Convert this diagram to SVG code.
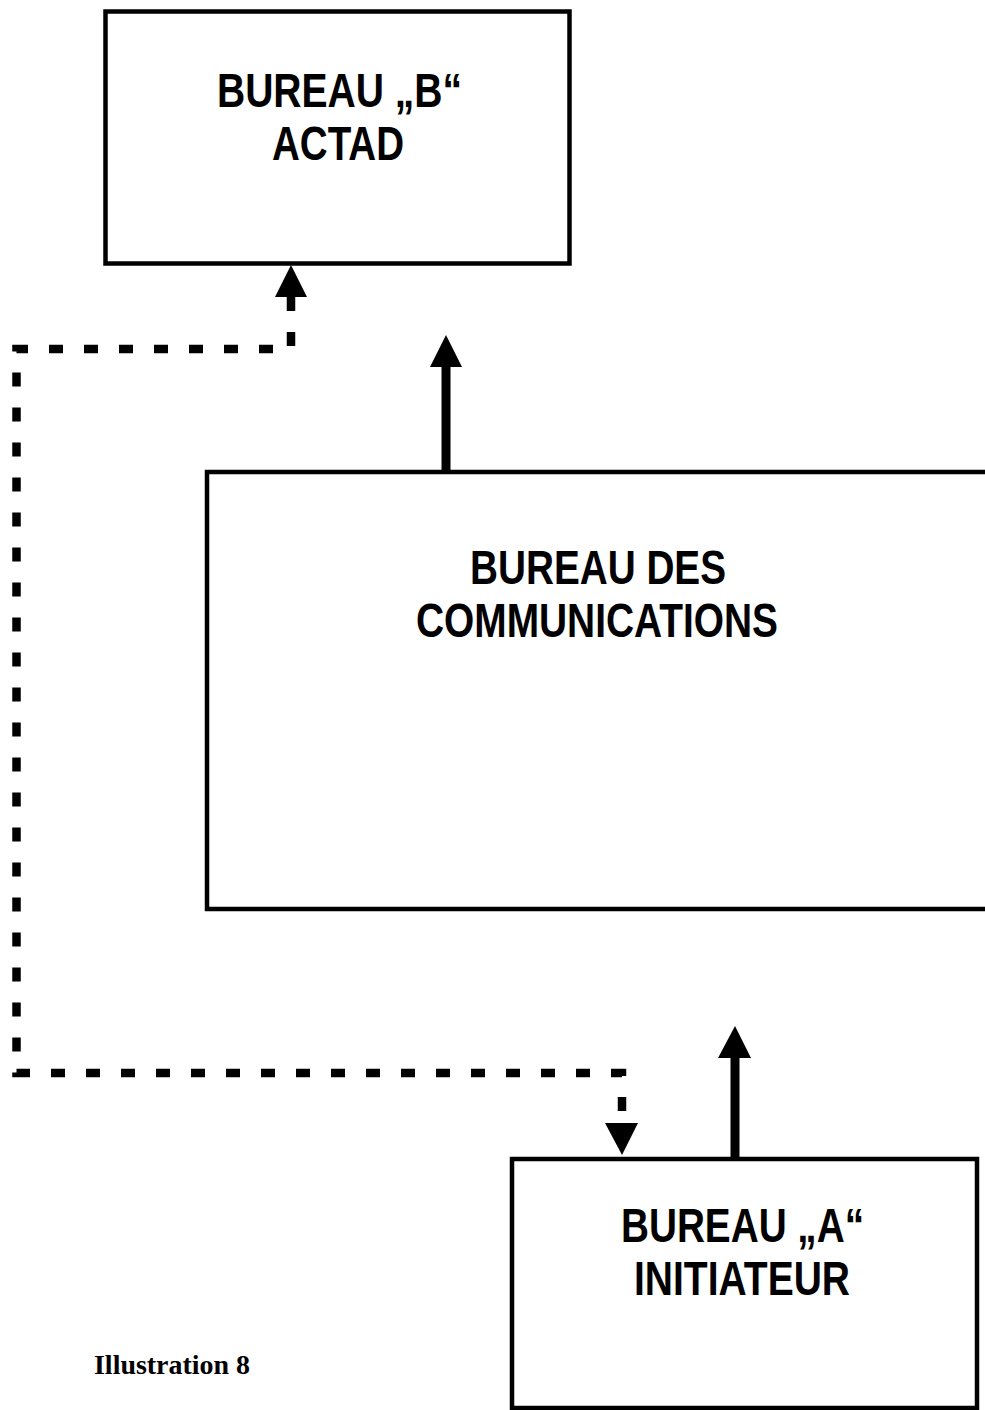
<svg xmlns="http://www.w3.org/2000/svg" width="985" height="1410" viewBox="0 0 985 1410">
  <style>
    .box { fill: #ffffff; stroke: #000000; stroke-width: 4.5; }
    .lbl { font-family: "Liberation Sans", Arial, sans-serif; font-weight: bold; font-size: 48px; fill: #000000; text-anchor: middle; }
    .cap { font-family: "Liberation Serif", "Times New Roman", serif; font-weight: bold; font-size: 28px; fill: #000000; }
    .solid { stroke: #000000; stroke-width: 9; fill: none; }
    .dash { stroke: #000000; stroke-width: 8.5; fill: none; stroke-dasharray: 14 21; }
    .head { fill: #000000; }
  </style>
  <rect x="0" y="0" width="985" height="1410" fill="#ffffff"/>

  <g id="node-bureau-b">
    <rect class="box" x="105.5" y="11.5" width="464" height="252"/>
    <text class="lbl" x="339.5" y="107" textLength="245" lengthAdjust="spacingAndGlyphs">BUREAU „B“</text>
    <text class="lbl" x="338" y="160" textLength="132" lengthAdjust="spacingAndGlyphs">ACTAD</text>
  </g>

  <g id="node-communications">
    <path class="box" d="M995 472 H207 V909 H995"/>
    <text class="lbl" x="598" y="584" textLength="256" lengthAdjust="spacingAndGlyphs">BUREAU DES</text>
    <text class="lbl" x="597" y="637" textLength="362" lengthAdjust="spacingAndGlyphs">COMMUNICATIONS</text>
  </g>

  <g id="node-bureau-a">
    <rect class="box" x="512" y="1159" width="465" height="249"/>
    <text class="lbl" x="742.5" y="1242" textLength="243" lengthAdjust="spacingAndGlyphs">BUREAU „A“</text>
    <text class="lbl" x="742" y="1295" textLength="216" lengthAdjust="spacingAndGlyphs">INITIATEUR</text>
  </g>

  <g id="connectors">
    <!-- dashed connector between Bureau A and Bureau B -->
    <path class="dash" d="M291 297 V349 H16.5 V1073 H622 V1123"/>
    <polygon class="head" points="291,265 307,297 275,297"/>
    <polygon class="head" points="622,1155 638,1123 605,1123"/>
    <!-- communications to Bureau B -->
    <line class="solid" x1="446" y1="471" x2="446" y2="365"/>
    <polygon class="head" points="446,335 462,367 430,367"/>
    <!-- Bureau A to communications -->
    <line class="solid" x1="735" y1="1160" x2="735" y2="1056"/>
    <polygon class="head" points="735,1026 751,1058 718,1058"/>
  </g>

  <g id="caption">
    <text class="cap" x="94" y="1374" textLength="156" lengthAdjust="spacingAndGlyphs">Illustration 8</text>
  </g>
</svg>
